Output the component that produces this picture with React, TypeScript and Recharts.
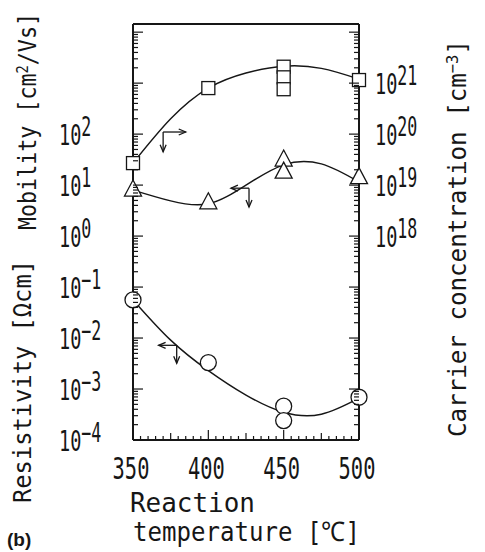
import React from 'react';
import { ComposedChart, Line, Scatter, XAxis, YAxis, ReferenceLine } from 'recharts';

// reaction temperature [C]
const tempLabels = [350, 400, 450, 500];
const fitTemps = [350, 375, 400, 425, 450, 475, 500];

// carrier concentration [cm^-3] (right axis, squares)
const concTemps = [350, 400, 450, 450, 450, 500];
const concValues = [2.7e19, 8.0e20, 2.1e21, 1.3e21, 7.6e20, 1.15e21];
const concFit = [2.7e19, 2.0e20, 8.0e20, 1.58e21, 2.15e21, 1.95e21, 1.2e21];

// mobility [cm2/Vs] (left axis, triangles)
const mobTemps = [350, 400, 450, 450, 500];
const mobValues = [8.0, 4.5, 31, 18, 14];
const mobFit = [8.0, 4.9, 4.3, 10, 25, 26, 11.5];

// resistivity [Ohm cm] (left axis, circles)
const resTemps = [350, 400, 450, 450, 500];
const resValues = [0.056, 0.0033, 4.6e-4, 2.4e-4, 6.9e-4];
const resFit = [0.056, 0.0091, 0.0023, 7.6e-4, 3.5e-4, 3.2e-4, 6.6e-4];

// axis decades
const leftDecades = [-4, -3, -2, -1, 0, 1, 2, 3, 4];
const leftLabelDecades = [-4, -3, -2, -1, 0, 1, 2];
const rightDecades = [14, 15, 16, 17, 18, 19, 20, 21, 22];
const rightLabelDecades = [18, 19, 20, 21];
const leftDomain = [1e-4, 10 ** 4.16];
const rightDomain = [1e14, 10 ** 22.16];

// axis arrows: [corner, end] pairs in data units
const concArrows = [
  [[370, 1.1e20], [385, 1.1e20]],
  [[370, 1.1e20], [370, 4.5e19]],
];
const leftArrows = [
  [[427, 8.7], [415, 8.7]],
  [[427, 8.7], [427, 3.7]],
  [[379, 0.0072], [367, 0.0072]],
  [[379, 0.0072], [379, 0.0032]],
];

const zip = (ts: number[], vs: number[]) => ts.map((t, i) => ({ t, v: vs[i] }));
const logTicks = (decades: number[], top: number) =>
  decades
    .flatMap((e) => [1, 2, 3, 4, 5, 6, 7, 8, 9].map((m) => m * 10 ** e))
    .filter((v) => v <= top);
const xTicks: number[] = [];
for (let t = 350; t <= 500; t += 5) xTicks.push(t);

const mono = "'DejaVu Sans Mono', 'Liberation Mono', monospace";
const ink = '#161616';

const isDecade = (v: number) => {
  const e = Math.log10(v);
  return Math.abs(e - Math.round(e)) < 1e-6;
};

const powLabel = (x: number, y: number, exp: number) => (
  <g transform={`translate(${x},${y + 10.5}) scale(0.64,1)`}>
    <text x={0} y={0} fontFamily={mono} fontSize={29} fill={ink}>
      10
      <tspan dy={-9} fontSize={26}>
        {exp < 0 ? '\u2212' + -exp : exp}
      </tspan>
    </text>
  </g>
);

// y ticks: inward tick line + optional power-of-ten label
const YTick = (side: 'left' | 'right', labels: number[]) => (props: any) => {
  const { x, y, payload } = props;
  const major = isDecade(payload.value);
  const exp = Math.round(Math.log10(payload.value));
  const dir = side === 'left' ? 1 : -1;
  const len = major ? 10 : 5;
  return (
    <g>
      <line x1={x} y1={y} x2={x + dir * len} y2={y} stroke={ink} strokeWidth={1.2} />
      {major && labels.includes(exp) ? powLabel(side === 'left' ? x - 74 : x + 16, y, exp) : null}
    </g>
  );
};

const xLen = (v: number) => (v % 50 === 0 ? 10 : v % 25 === 0 ? 7 : 4);

const XTick = (props: any) => {
  const { x, y, payload } = props;
  const v = payload.value;
  return (
    <g>
      <line x1={x} y1={y} x2={x} y2={y - xLen(v)} stroke={ink} strokeWidth={1.2} />
      {tempLabels.includes(v) ? (
        <g transform={`translate(${x - 2},${y + 39}) scale(0.68,1)`}>
          <text x={0} y={0} textAnchor="middle" fontFamily={mono} fontSize={30} fill={ink}>
            {v}
          </text>
        </g>
      ) : null}
    </g>
  );
};

const TopTick = (props: any) => {
  const { x, y, payload } = props;
  return <line x1={x} y1={y} x2={x} y2={y + xLen(payload.value) + 1} stroke={ink} strokeWidth={1.2} />;
};

const Arrow = (p: any) => {
  const { x1, y1, x2, y2 } = p;
  const a = Math.atan2(y2 - y1, x2 - x1);
  const len = 7;
  const w = 3;
  const bx = x2 - len * Math.cos(a);
  const by = y2 - len * Math.sin(a);
  const px = -Math.sin(a) * w;
  const py = Math.cos(a) * w;
  return (
    <g>
      <line x1={x1} y1={y1} x2={x2} y2={y2} stroke={ink} strokeWidth={1.3} />
      <path d={`M${bx + px},${by + py} L${x2},${y2} L${bx - px},${by - py}`} fill="none" stroke={ink} strokeWidth={1.3} />
    </g>
  );
};

const Square = (p: any) => (
  <rect x={p.cx - 6.5} y={p.cy - 6.5} width={13} height={13} fill="#fff" stroke={ink} strokeWidth={1.3} />
);
const Triangle = (p: any) => (
  <path d={`M${p.cx},${p.cy - 10} L${p.cx + 8.5},${p.cy + 6} L${p.cx - 8.5},${p.cy + 6} Z`} fill="#fff" stroke={ink} strokeWidth={1.3} />
);
const Circle = (p: any) => <circle cx={p.cx} cy={p.cy} r={8} fill="#fff" stroke={ink} strokeWidth={1.3} />;

const frame = { stroke: ink, strokeWidth: 2 };

export default function App() {
  return (
    <div style={{ position: 'absolute', left: 0, top: 0, width: 485, height: 552, background: '#fff' }}>
      <ComposedChart width={485} height={552} margin={{ top: 23, right: 66, bottom: 72, left: 73 }}>
        <XAxis xAxisId="X" type="number" dataKey="t" domain={[350, 500]} ticks={xTicks} interval={0} height={40}
          axisLine={frame} tickLine={false} tickSize={0} tickMargin={0} tick={XTick} />
        <XAxis xAxisId="T" orientation="top" type="number" domain={[350, 500]} allowDataOverflow ticks={xTicks}
          interval={0} height={1} axisLine={frame} tickLine={false} tickSize={0} tickMargin={0} tick={TopTick} />

        <YAxis yAxisId="L" type="number" scale="log" dataKey="v" domain={leftDomain} width={60}
          ticks={logTicks(leftDecades, leftDomain[1])} interval={0} axisLine={frame} tickLine={false}
          tickSize={0} tickMargin={0} tick={YTick('left', leftLabelDecades)} />
        <YAxis yAxisId="R" orientation="right" type="number" scale="log" dataKey="v" domain={rightDomain} width={60}
          ticks={logTicks(rightDecades, rightDomain[1])} interval={0} axisLine={frame} tickLine={false}
          tickSize={0} tickMargin={0} tick={YTick('right', rightLabelDecades)} />

        <Line data={zip(fitTemps, concFit)} dataKey="v" xAxisId="X" yAxisId="R" type="natural"
          stroke={ink} strokeWidth={1.4} dot={false} isAnimationActive={false} />
        <Line data={zip(fitTemps, mobFit)} dataKey="v" xAxisId="X" yAxisId="L" type="natural"
          stroke={ink} strokeWidth={1.4} dot={false} isAnimationActive={false} />
        <Line data={zip(fitTemps, resFit)} dataKey="v" xAxisId="X" yAxisId="L" type="natural"
          stroke={ink} strokeWidth={1.4} dot={false} isAnimationActive={false} />

        {concArrows.map((s, i) => (
          <ReferenceLine key={'c' + i} xAxisId="X" yAxisId="R" shape={Arrow}
            segment={[{ x: s[0][0], y: s[0][1] }, { x: s[1][0], y: s[1][1] }]} />
        ))}
        {leftArrows.map((s, i) => (
          <ReferenceLine key={'l' + i} xAxisId="X" yAxisId="L" shape={Arrow}
            segment={[{ x: s[0][0], y: s[0][1] }, { x: s[1][0], y: s[1][1] }]} />
        ))}

        <Scatter data={zip(concTemps, concValues)} xAxisId="X" yAxisId="R" shape={Square} isAnimationActive={false} />
        <Scatter data={zip(mobTemps, mobValues)} xAxisId="X" yAxisId="L" shape={Triangle} isAnimationActive={false} />
        <Scatter data={zip(resTemps, resValues)} xAxisId="X" yAxisId="L" shape={Circle} isAnimationActive={false} />
      </ComposedChart>

      <svg width={485} height={552} style={{ position: 'absolute', left: 0, top: 0, pointerEvents: 'none' }}>
        <g fontFamily={mono} fill={ink}>
          <text transform="translate(36,230) rotate(-90)" fontSize={25} textLength={217} lengthAdjust="spacingAndGlyphs">
            Mobility [cm<tspan dy={-8} fontSize={16}>2</tspan><tspan dy={8}>/Vs]</tspan>
          </text>
          <text transform="translate(31,503) rotate(-90)" fontSize={25} textLength={243} lengthAdjust="spacingAndGlyphs">
            Resistivity [Ωcm]
          </text>
          <text transform="translate(466,437) rotate(-90)" fontSize={25} textLength={397} lengthAdjust="spacingAndGlyphs">
            Carrier concentration [cm<tspan dy={-8} fontSize={16}>−3</tspan><tspan dy={8}>]</tspan>
          </text>
          <text x={130} y={512} fontSize={27} textLength={125} lengthAdjust="spacingAndGlyphs">Reaction</text>
          <text x={133} y={541} fontSize={27} textLength={227} lengthAdjust="spacingAndGlyphs">temperature [℃]</text>
        </g>
        <text x={7} y={546} fontFamily="'Liberation Sans', Arial, sans-serif" fontWeight="bold" fontSize={19} fill={ink}>
          (b)
        </text>
      </svg>
    </div>
  );
}
